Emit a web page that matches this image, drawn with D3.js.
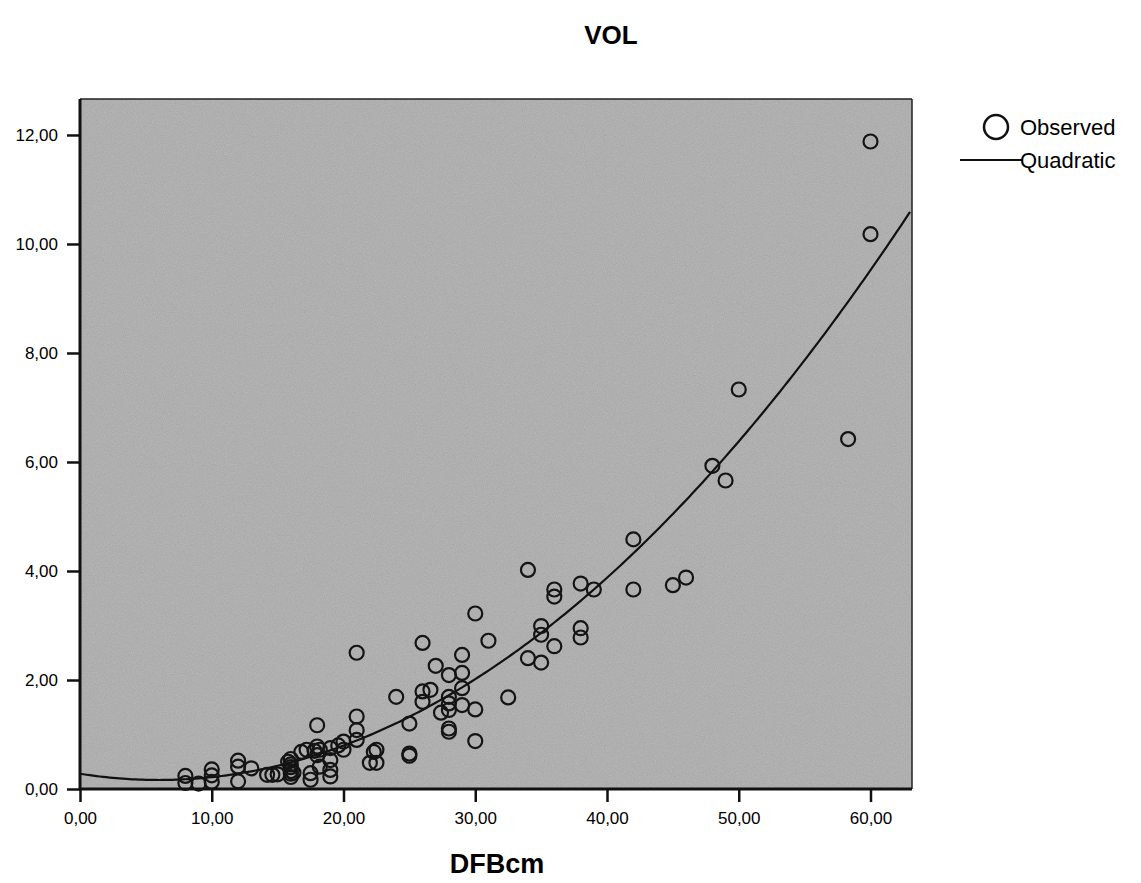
<!DOCTYPE html>
<html>
<head>
<meta charset="utf-8">
<script src="https://cdn.jsdelivr.net/npm/d3@7"></script>
<style>
	body { margin: 0; background: #fff; }
	text { font-family: "Liberation Sans", Arial, sans-serif; fill: #000; }
	.axis text { font-size: 17px; }
	.axis line { stroke: #111; stroke-width: 2.5; }
	.axis path { display: none; }
	.title { font-size: 26px; font-weight: bold; }
	.xlabel { font-size: 27px; font-weight: bold; }
	.legendText { font-size: 22px; }
</style>
</head>
<body>
<script>
	// DFBcm (x) and VOL (y) of the observed trees
	var dfb = [
		8, 8, 9, 10, 10, 10, 12, 12, 12, 13, 14.2, 14.6, 15,
		15.8, 16, 16, 16, 16, 16, 16, 16.2,
		16.8, 17.2, 17.5, 17.5, 17.8, 18, 18, 18, 18.2, 18.2,
		19, 19, 19, 19, 19.6, 20, 20,
		21, 21, 21, 21, 22, 22.5, 22.5, 22.3,
		24, 25, 25, 25,
		26, 26, 26, 26.6, 27, 27.4,
		28, 28, 28, 28, 28, 28, 29, 29, 29, 29,
		30, 30, 30, 31, 32.5,
		34, 34, 35, 35, 35, 36, 36, 36, 38, 38, 38, 39,
		42, 42, 45, 46, 48, 49, 50, 58.3, 60, 60
	];
	var vol = [
		0.24, 0.11, 0.10, 0.36, 0.25, 0.13, 0.52, 0.41, 0.14, 0.38, 0.26, 0.26, 0.27,
		0.50, 0.55, 0.45, 0.40, 0.33, 0.28, 0.22, 0.30,
		0.68, 0.72, 0.29, 0.17, 0.70, 0.62, 1.17, 0.78, 0.72, 0.41,
		0.75, 0.53, 0.35, 0.23, 0.80, 0.87, 0.72,
		1.33, 1.08, 0.90, 2.50, 0.48, 0.72, 0.48, 0.68,
		1.69, 1.20, 0.65, 0.61,
		2.68, 1.79, 1.60, 1.82, 2.26, 1.40,
		2.09, 1.69, 1.57, 1.45, 1.11, 1.05, 2.46, 2.13, 1.85, 1.54,
		3.22, 1.46, 0.88, 2.72, 1.68,
		4.02, 2.40, 2.99, 2.83, 2.32, 3.66, 3.53, 2.62, 3.77, 2.95, 2.78, 3.66,
		3.66, 4.58, 3.74, 3.88, 5.93, 5.66, 7.33, 6.42, 11.88, 10.18
	];

	// quadratic curve coefficients (constant, linear, squared) as drawn in the picture
	var quadCoef = [0.28, -0.0383, 0.003205];

	var xTicks = [0, 10, 20, 30, 40, 50, 60];
	var yTicks = [0, 2, 4, 6, 8, 10, 12];
	var legendLabels = ["Observed", "Quadratic"];

	var W = 1141, H = 883;
	var plot = { left: 80, right: 912, top: 99, bottom: 789 };

	var svg = d3.select("body").append("svg")
		.attr("width", W)
		.attr("height", H);

	var x = d3.scaleLinear().domain([0, 63.15]).range([plot.left, plot.right]);
	var y = d3.scaleLinear().domain([0, 12.66]).range([plot.bottom, plot.top]);

	// grainy grey background like the scanned original
	var defs = svg.append("defs");
	var grain = defs.append("filter").attr("id", "grain")
		.attr("x", 0).attr("y", 0).attr("width", "100%").attr("height", "100%");
	grain.append("feTurbulence")
		.attr("type", "fractalNoise")
		.attr("baseFrequency", 0.9)
		.attr("numOctaves", 2)
		.attr("seed", 4);
	grain.append("feColorMatrix").attr("type", "saturate").attr("values", 0);

	svg.append("rect")
		.attr("x", plot.left).attr("y", plot.top)
		.attr("width", plot.right - plot.left)
		.attr("height", plot.bottom - plot.top)
		.style("fill", "#adadad");
	svg.append("rect")
		.attr("x", plot.left).attr("y", plot.top)
		.attr("width", plot.right - plot.left)
		.attr("height", plot.bottom - plot.top)
		.attr("filter", "url(#grain)")
		.style("opacity", 0.3);

	var clip = defs.append("clipPath").attr("id", "plotclip");
	clip.append("rect")
		.attr("x", plot.left).attr("y", plot.top)
		.attr("width", plot.right - plot.left)
		.attr("height", plot.bottom - plot.top);

	var curveX = d3.range(0, 63.15 + 0.01, 0.25);
	svg.append("path")
		.datum(curveX)
		.attr("clip-path", "url(#plotclip)")
		.attr("fill", "none")
		.attr("stroke", "#111")
		.attr("stroke-width", 2.2)
		.attr("d", d3.line()
			.x(function(d) { return x(d); })
			.y(function(d) { return y(quadCoef[0] + quadCoef[1] * d + quadCoef[2] * d * d); }));

	// observed points
	svg.append("g").selectAll("circle")
		.data(dfb)
		.enter().append("circle")
		.attr("cx", function(d) { return x(d); })
		.attr("cy", function(d, i) { return y(vol[i]); })
		.attr("r", 7)
		.attr("fill", "none")
		.attr("stroke", "#141414")
		.attr("stroke-width", 2.2);

	// frame
	svg.append("line").attr("x1", plot.left).attr("x2", plot.right).attr("y1", plot.top).attr("y2", plot.top)
		.attr("stroke", "#222").attr("stroke-width", 1.5);
	svg.append("line").attr("x1", plot.right).attr("x2", plot.right).attr("y1", plot.top).attr("y2", plot.bottom)
		.attr("stroke", "#222").attr("stroke-width", 1.5);
	svg.append("line").attr("x1", plot.left).attr("x2", plot.left).attr("y1", plot.top).attr("y2", plot.bottom + 1)
		.attr("stroke", "#111").attr("stroke-width", 3);
	svg.append("line").attr("x1", plot.left - 1).attr("x2", plot.right).attr("y1", plot.bottom).attr("y2", plot.bottom)
		.attr("stroke", "#111").attr("stroke-width", 3);

	var fmt = function(d) { return d.toFixed(2).replace(".", ","); };

	svg.append("g")
		.attr("class", "axis")
		.attr("transform", "translate(" + plot.left + ",0)")
		.call(d3.axisLeft(y).tickValues(yTicks).tickFormat(fmt).tickSize(13).tickPadding(9));

	svg.append("g")
		.attr("class", "axis")
		.attr("transform", "translate(0," + plot.bottom + ")")
		.call(d3.axisBottom(x).tickValues(xTicks).tickFormat(fmt).tickSize(13).tickPadding(10));

	// titles
	svg.append("text").attr("class", "title")
		.attr("x", 611).attr("y", 44)
		.attr("text-anchor", "middle")
		.text("VOL");
	svg.append("text").attr("class", "xlabel")
		.attr("x", 497).attr("y", 873)
		.attr("text-anchor", "middle")
		.text("DFBcm");

	// legend
	var legend = svg.append("g");
	legend.append("circle")
		.attr("cx", 996).attr("cy", 127).attr("r", 12)
		.attr("fill", "none").attr("stroke", "#111").attr("stroke-width", 2.5);
	legend.append("text").attr("class", "legendText")
		.attr("x", 1020).attr("y", 135)
		.text(legendLabels[0]);
	legend.append("line")
		.attr("x1", 960).attr("x2", 1022).attr("y1", 160).attr("y2", 160)
		.attr("stroke", "#111").attr("stroke-width", 2);
	legend.append("text").attr("class", "legendText")
		.attr("x", 1020).attr("y", 168)
		.text(legendLabels[1]);
</script>
</body>
</html>
